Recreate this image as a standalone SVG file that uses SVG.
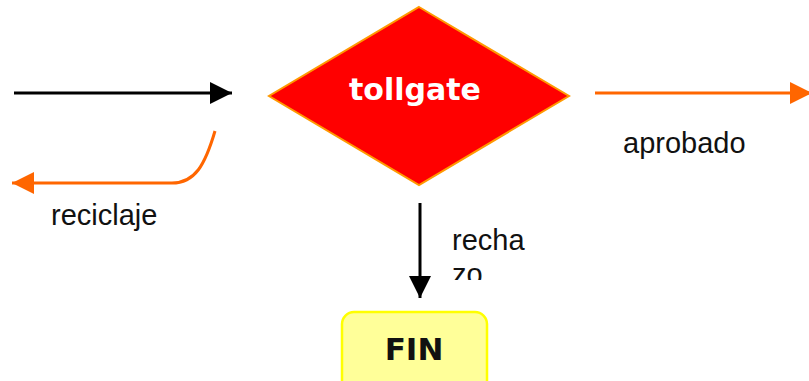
<svg xmlns="http://www.w3.org/2000/svg" width="809" height="381" viewBox="0 0 809 381">
<style>
.lbl{font-family:"Liberation Sans",Arial,sans-serif;font-size:29px;fill:#111}
.bold{font-family:"DejaVu Sans",Verdana,sans-serif;font-weight:bold}
.blk{stroke:#000;stroke-width:3;fill:none}
.org{stroke:#FF6600;stroke-width:3;fill:none}
</style>
<defs>
<marker id="ab" viewBox="0 0 22 22" refX="22" refY="11" markerWidth="22" markerHeight="22" markerUnits="userSpaceOnUse" orient="auto"><path d="M0,0 L22,11 L0,22 Z" fill="#000"/></marker>
<marker id="ao" viewBox="0 0 22 22" refX="22" refY="11" markerWidth="22" markerHeight="22" markerUnits="userSpaceOnUse" orient="auto"><path d="M0,0 L22,11 L0,22 Z" fill="#FF6600"/></marker>
<clipPath id="cz"><rect x="440" y="220" width="120" height="60"/></clipPath>
</defs>
<rect width="809" height="381" fill="#fff"/>
<g id="connectors">
<line class="blk" x1="14" y1="93" x2="232" y2="93" marker-end="url(#ab)"/>
<line class="org" x1="595" y1="93" x2="812" y2="93" marker-end="url(#ao)"/>
<path class="org" d="M215,131 C205,165 195,183 172,183 L12,183" marker-end="url(#ao)"/>
<line class="blk" x1="420" y1="203" x2="420" y2="298" marker-end="url(#ab)"/>
<text class="lbl" x="623" y="153">aprobado</text>
<text class="lbl" x="51" y="225">reciclaje</text>
<g clip-path="url(#cz)">
<text class="lbl" x="452" y="250">recha</text>
<text class="lbl" x="452" y="284">zo</text>
</g>
</g>
<g id="tollgate">
<polygon points="419,7 569,96 419,185 269,96" fill="#FF0000" stroke="#FF9900" stroke-width="2"/>
<text class="bold" x="415" y="100" font-size="30" fill="#fff" text-anchor="middle">tollgate</text>
</g>
<g id="fin">
<rect x="342" y="312" width="145" height="90" rx="12" fill="#FFFF99" stroke="#FFFF00" stroke-width="2.5"/>
<text class="bold" x="414" y="360" font-size="31" fill="#111" text-anchor="middle">FIN</text>
</g>
</svg>
